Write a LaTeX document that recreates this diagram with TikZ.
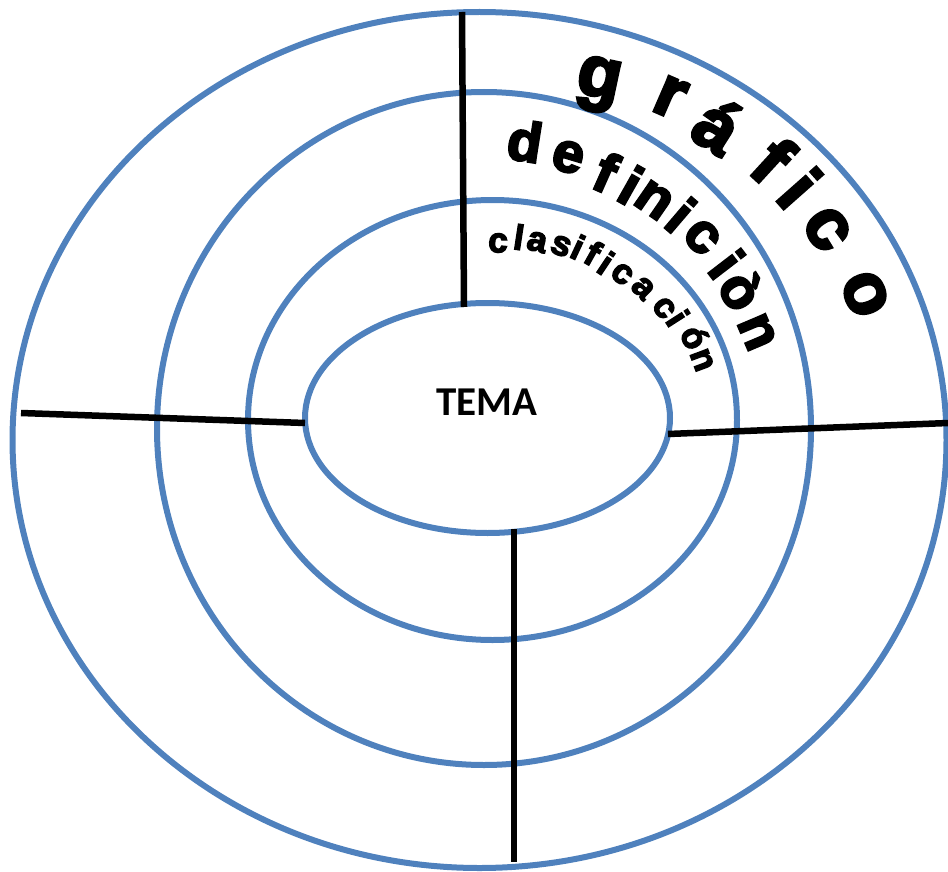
\documentclass[tikz,border=0pt]{standalone}
\usepackage{fontspec}
\usetikzlibrary{shapes.geometric}
\newfontfamily\arcfont{Liberation Sans Bold}[FakeBold=4]
\newfontfamily\temafont{Carlito Bold}
\definecolor{ringblue}{HTML}{4F81BD}
\begin{document}
\begin{tikzpicture}[x=1pt,y=-1pt,
  ring/.style={draw=ringblue, line width=6pt, ellipse, inner sep=0pt, fill=none},
  divider/.style={draw=black, line width=6.5pt},
  bigl/.style={font=\arcfont\fontsize{72}{78}\selectfont, inner sep=0pt, anchor=center},
  midl/.style={font=\arcfont\fontsize{56}{62}\selectfont, inner sep=0pt, anchor=center},
  smalll/.style={font=\arcfont\fontsize{35}{40}\selectfont, inner sep=0pt, anchor=center},
  tema/.style={font=\temafont\fontsize{41}{45}\selectfont, inner sep=0pt}]
\useasboundingbox (0,0) rectangle (948,872);
% rings
\node[ring, minimum width=934pt, minimum height=856pt] (r1) at (479.5,440) {};
\node[ring, minimum width=654pt, minimum height=673pt] (r2) at (484,428.5) {};
\node[ring, minimum width=489pt, minimum height=440pt] (r3) at (492.5,420) {};
\node[ring, minimum width=365pt, minimum height=230pt] (r4) at (487.5,418) {};
% divider end points
\coordinate (tA) at (462,12);
\coordinate (tB) at (464,307);
\coordinate (lA) at (21,413);
\coordinate (lB) at (305,423);
\coordinate (rA) at (668,434);
\coordinate (rB) at (948,423);
\coordinate (bA) at (514,529);
\coordinate (bB) at (514,862);
\draw[divider] (tA) -- (tB);
\draw[divider] (lA) -- (lB);
\draw[divider] (rA) -- (rB);
\draw[divider] (bA) -- (bB);
% centre text
\node[tema] (tm) at (487,402) {TEMA};
% grafico
\foreach \ch/\px/\py/\rt [count=\k] in {g/598/85/-12, r/670/97/-23.5, á/718/125/-32.3, f/773/160/-42.5, i/800/188/-48.5, c/827/229/-56, o/865/294/-68}
  \node[bigl, rotate=\rt] (gr\k) at (\px,\py) {\ch};
% definicion
\foreach \ch/\px/\py/\rt [count=\k] in {d/525/141/-9, e/568/157/-16.7, f/606/172/-24, i/631/185/-29.4, n/654/200/-34.7, i/681/215/-40.5, c/702/237/-46.2, i/727/264/-52.5, ò/742/290/-58.3, n/757/332/-67}
  \node[midl, rotate=\rt] (de\k) at (\px,\py) {\ch};
% clasificacion
\foreach \ch/\px/\py/\rt [count=\k] in {c/498/243/-3, l/519/237/-8.7, a/537/242/-13.9, s/561/246/-20.6, i/578/247/-25, f/593/253/-29.3, i/606/263/-33.7, c/622/274/-38.9, a/643/288/-45.6, c/664/308/-53.1, i/678/318/-57.3, ó/695/337/-63.5, n/702/360/-69.5}
  \node[smalll, rotate=\rt] (cl\k) at (\px,\py) {\ch};
\end{tikzpicture}
\end{document}
